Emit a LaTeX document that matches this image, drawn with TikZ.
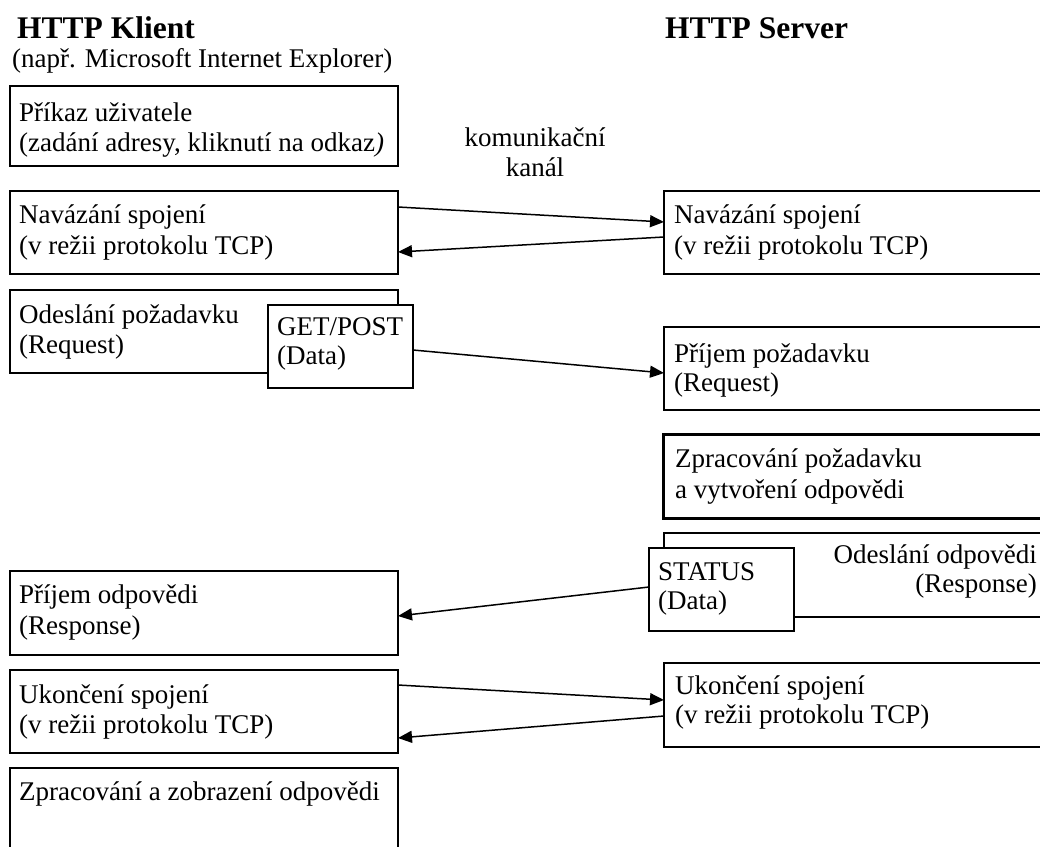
\documentclass[tikz,border=0pt]{standalone}
\usepackage{fontspec}
\setmainfont{Liberation Serif}
\usetikzlibrary{arrows.meta}
\begin{document}
\begin{tikzpicture}[x=1pt,y=-1pt,
  box/.style={draw, fill=white, line width=1.5pt, anchor=north west, inner sep=0pt, outer sep=0pt},
  thickbox/.style={box, line width=3pt},
  txt/.style={anchor=base west, inner sep=0pt, font=\fontsize{27}{30}\selectfont},
  ctxt/.style={txt, anchor=base},
  ttl/.style={anchor=base west, inner sep=0pt, font=\fontsize{31.5}{36}\selectfont\bfseries},
  arr/.style={line width=1.5pt, -{Triangle[length=14pt,width=12pt]}}]
\fill[white] (0,0) rectangle (1040,846);
\clip (0,0) rectangle (1040,846);
% titles
\node[ttl] (tk) at (17,38) {HTTP Klient};
\node[txt] (tk2) at (12,67) {(např. Microsoft Internet Explorer)};
\node[ttl] (ts) at (665,38) {HTTP Server};
\node[ctxt] (kk1) at (535,146) {komunikační};
\node[ctxt] (kk2) at (535,176) {kanál};
% client boxes
\node[box, minimum width=388, minimum height=80] (c1) at (10,86) {};
\node[txt] (c1a) at (19,121) {Příkaz uživatele};
\node[txt] (c1b) at (19,151) {(zadání adresy, kliknutí na odkaz\textit{)}};
\node[box, minimum width=388, minimum height=83] (c2) at (10,191) {};
\node[txt] (c2a) at (19,223) {Navázání spojení};
\node[txt] (c2b) at (19,254) {(v režii protokolu TCP)};
\node[box, minimum width=388, minimum height=83] (c3) at (10,290) {};
\node[txt] (c3a) at (19,323) {Odeslání požadavku};
\node[txt] (c3b) at (19,353) {(Request)};
\node[box, minimum width=145, minimum height=83] (g) at (268,305) {};
\node[txt] (ga) at (277,335) {GET/POST};
\node[txt] (gb) at (277,364) {(Data)};
\node[box, minimum width=388, minimum height=84] (c4) at (10,571) {};
\node[txt] (c4a) at (19,603) {Příjem odpovědi};
\node[txt] (c4b) at (19,634) {(Response)};
\node[box, minimum width=388, minimum height=83] (c5) at (10,670) {};
\node[txt] (c5a) at (19,703) {Ukončení spojení};
\node[txt] (c5b) at (19,733) {(v režii protokolu TCP)};
\node[box, minimum width=388, minimum height=120] (c6) at (10,768) {};
\node[txt] (c6a) at (19,800) {Zpracování a zobrazení odpovědi};
% server boxes
\node[box, minimum width=420, minimum height=83] (s2) at (664,191) {};
\node[txt] (s2a) at (674,223) {Navázání spojení};
\node[txt] (s2b) at (674,254) {(v režii protokolu TCP)};
\node[box, minimum width=420, minimum height=83] (s3) at (664,327) {};
\node[txt] (s3a) at (674,362) {Příjem požadavku};
\node[txt] (s3b) at (674,391) {(Request)};
\node[thickbox, minimum width=420, minimum height=84] (s4) at (663,434) {};
\node[txt] (s4a) at (675,467) {Zpracování požadavku};
\node[txt] (s4b) at (675,498) {a vytvoření odpovědi};
\node[box, minimum width=420, minimum height=84] (s5) at (664,533) {};
\node[txt, anchor=base east] (s5a) at (1037,563) {Odeslání odpovědi};
\node[txt, anchor=base east] (s5b) at (1037,592) {(Response)};
\node[box, minimum width=145, minimum height=83] (st) at (649,548) {};
\node[txt] (sta) at (658,580) {STATUS};
\node[txt] (stb) at (658,609) {(Data)};
\node[box, minimum width=420, minimum height=84] (s6) at (664,663) {};
\node[txt] (s6a) at (675,694) {Ukončení spojení};
\node[txt] (s6b) at (675,723) {(v režii protokolu TCP)};
% connectors
\draw[arr] ([yshift=-16pt]c2.north east) -- ([yshift=-31pt]s2.north west);
\draw[arr] ([yshift=-46pt]s2.north west) -- ([yshift=-61pt]c2.north east);
\draw[arr] ([yshift=-45pt]g.north east) -- ([yshift=-46pt]s3.north west);
\draw[arr] ([yshift=-39pt]st.north west) -- ([yshift=-45pt]c4.north east);
\draw[arr] ([yshift=-15pt]c5.north east) -- ([yshift=-37pt]s6.north west);
\draw[arr] ([yshift=-53pt]s6.north west) -- ([yshift=-68pt]c5.north east);
\end{tikzpicture}
\end{document}
